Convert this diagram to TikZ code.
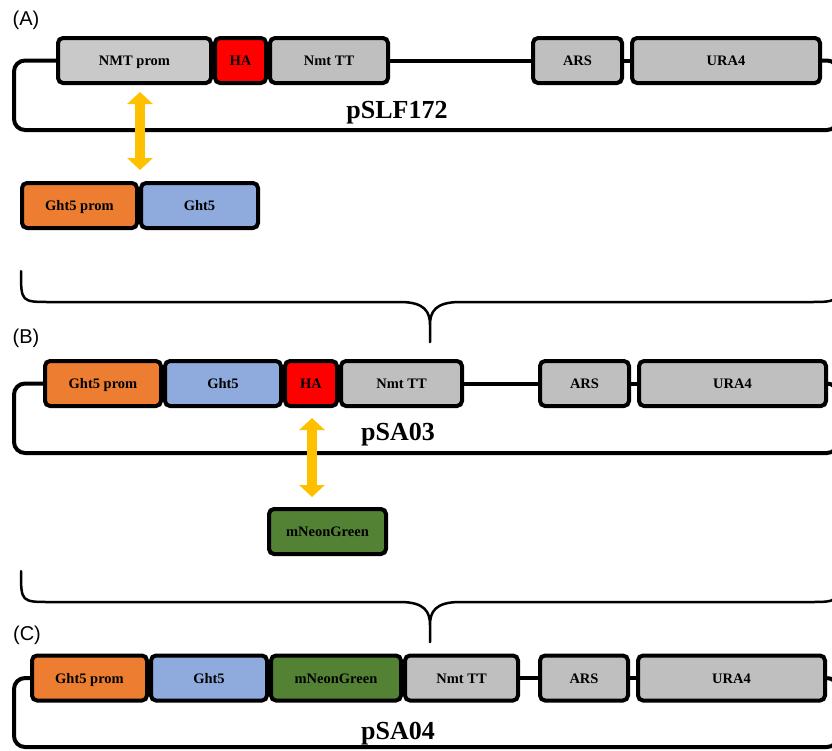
\documentclass[tikz,border=0pt]{standalone}
\usepackage{fontspec}
\setmainfont{Liberation Serif}
\newfontfamily\panelfont{Liberation Sans}
\usetikzlibrary{positioning}
\usetikzlibrary{arrows.meta}
\definecolor{promgray}{HTML}{C9C9C9}
\definecolor{ttgray}{HTML}{BFBFBF}
\definecolor{haRed}{HTML}{FF0000}
\definecolor{ghtOrange}{HTML}{ED7D31}
\definecolor{ghtBlue}{HTML}{8FAADC}
\definecolor{neonGreen}{HTML}{548235}
\definecolor{swapYellow}{HTML}{FFC000}

\begin{document}
\begin{tikzpicture}[x=1pt,y=-1pt,
  part/.style={draw,line width=4pt,rounded corners=5pt,minimum height=45pt,inner sep=0pt,text height=10pt,text depth=0pt,font=\bfseries\fontsize{14.5}{16}\selectfont},
  backbone/.style={line width=4pt,rounded corners=11pt},
  brace/.style={line width=2.5pt,line cap=round},
  swaparrow/.style={draw=swapYellow,line width=10pt,{Triangle[width=25pt,length=12pt]}-{Triangle[width=25pt,length=12pt]}},
  panel/.style={font=\panelfont\fontsize{20}{24}\selectfont},
  plasmid/.style={anchor=base,font=\bfseries\fontsize{26}{30}\selectfont}]
\clip (0,0) rectangle (832,750);

% (A) pSLF172
\node[panel] (labA) at (26,20) {(A)};
\node[part,fill=promgray,minimum width=153pt,anchor=west] (promA) at (56,60.5) {NMT prom};
\node[part,fill=haRed,minimum width=51pt,right=0pt of promA] (haA) {HA};
\node[part,fill=ttgray,minimum width=118pt,right=0pt of haA] (ttA) {Nmt TT};
\node[part,fill=ttgray,minimum width=89pt,anchor=west] (arsA) at (531,60.5) {ARS};
\node[part,fill=ttgray,minimum width=188pt,right=6pt of arsA] (uraA) {URA4};
\coordinate (cornerA) at (14,130);
\coordinate (farA) at (838,60.5);
\draw[backbone] (promA.west) -| (cornerA) -| (farA) -- (uraA.east);
\draw[backbone] (ttA.east) -- (arsA.west);
\draw[backbone] (arsA.east) -- (uraA.west);
\node[plasmid] (nameA) at (397,118) {pSLF172};

\coordinate (topA) at (140,92);
\coordinate (botA) at (140,170);
\draw[swaparrow] (topA) -- (botA);
\node[part,fill=ghtOrange,minimum width=115pt,anchor=west] (ghtpA) at (20,205.5) {Ght5 prom};
\node[part,fill=ghtBlue,minimum width=117pt,right=0pt of ghtpA] (ghtA) {Ght5};

% braces
\foreach \by in {302,602} {
  \draw[brace] (21,{\by-31}) .. controls (21,\by) .. (51,\by) -- (400,\by)
    .. controls (425,\by) and (430,{\by+10}) .. (430,{\by+23}) -- (430,{\by+40})
    (430,{\by+23}) .. controls (430,{\by+10}) and (435,\by) .. (460,\by) -- (809,\by)
    .. controls (839,\by) .. (839,{\by-31});
}

% (B) pSA03
\node[panel] (labB) at (26,338) {(B)};
\node[part,fill=ghtOrange,minimum width=116pt,anchor=west] (ghtpB) at (43,383.5) {Ght5 prom};
\node[part,fill=ghtBlue,minimum width=116pt,right=0pt of ghtpB] (ghtB) {Ght5};
\node[part,fill=haRed,minimum width=52pt,right=0pt of ghtB] (haB) {HA};
\node[part,fill=ttgray,minimum width=121pt,right=0pt of haB] (ttB) {Nmt TT};
\node[part,fill=ttgray,minimum width=89pt,anchor=west] (arsB) at (538,383.5) {ARS};
\node[part,fill=ttgray,minimum width=187pt,right=6pt of arsB] (uraB) {URA4};
\coordinate (cornerB) at (14,453);
\coordinate (farB) at (838,383.5);
\draw[backbone] (ghtpB.west) -| (cornerB) -| (farB) -- (uraB.east);
\draw[backbone] (ttB.east) -- (arsB.west);
\draw[backbone] (arsB.east) -- (uraB.west);
\node[plasmid] (nameB) at (398,440) {pSA03};

\coordinate (topB) at (312,418);
\coordinate (botB) at (312,497);
\draw[swaparrow] (topB) -- (botB);
\node[part,fill=neonGreen,minimum width=117pt,anchor=west] (greenB) at (267,531.5) {mNeonGreen};

% (C) pSA04
\node[panel] (labC) at (27,635) {(C)};
\node[part,fill=ghtOrange,minimum width=115pt,anchor=west] (ghtpC) at (30,678) {Ght5 prom};
\node[part,fill=ghtBlue,minimum width=116pt,right=0pt of ghtpC] (ghtC) {Ght5};
\node[part,fill=neonGreen,minimum width=130pt,right=0pt of ghtC] (greenC) {mNeonGreen};
\node[part,fill=ttgray,minimum width=113pt,right=0pt of greenC] (ttC) {Nmt TT};
\node[part,fill=ttgray,minimum width=88pt,anchor=west] (arsC) at (538,678) {ARS};
\node[part,fill=ttgray,minimum width=187pt,right=6pt of arsC] (uraC) {URA4};
\coordinate (cornerC) at (14,747);
\coordinate (farC) at (838,678);
\draw[backbone] (ghtpC.west) -| (cornerC) -| (farC) -- (uraC.east);
\draw[backbone] (ttC.east) -- (arsC.west);
\draw[backbone] (arsC.east) -- (uraC.west);
\node[plasmid] (nameC) at (398,739) {pSA04};
\end{tikzpicture}
\end{document}
